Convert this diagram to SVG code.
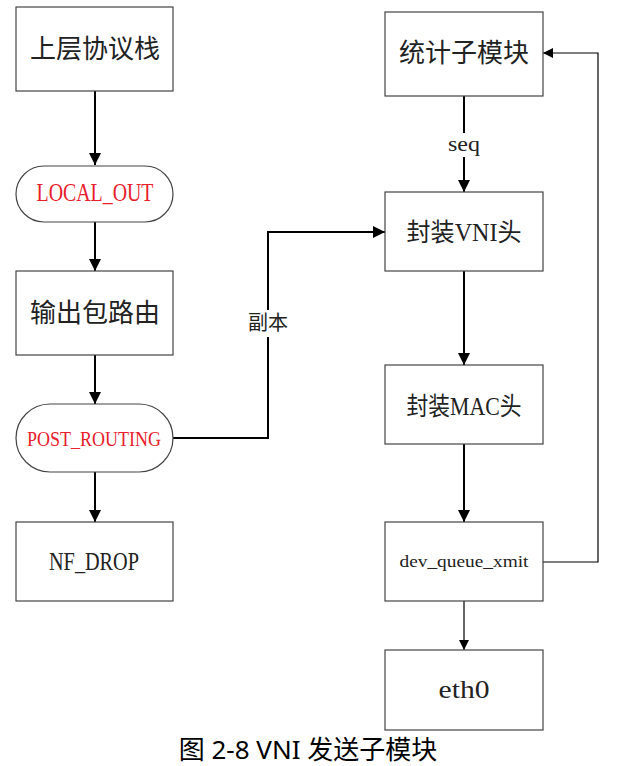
<svg xmlns="http://www.w3.org/2000/svg" width="628" height="766" viewBox="0 0 628 766">
<style>
.box{fill:#fff;stroke:#444;stroke-width:1.2}
.cjk{font-family:"Noto Sans CJK SC",sans-serif;font-size:26px;fill:#222;text-anchor:middle}
.lat{font-family:"Liberation Serif","Noto Sans CJK SC",serif;fill:#222;text-anchor:middle}
.red{fill:#e8202a}
.thick{fill:none;stroke:#000;stroke-width:2}
.thin{fill:none;stroke:#000;stroke-width:1.2}
.lbl{font-family:"Noto Sans CJK SC",sans-serif;font-size:20px;fill:#222;text-anchor:middle}
</style>
<defs>
<marker id="ah" viewBox="0 0 12 12" refX="12" refY="6" markerWidth="12" markerHeight="12" markerUnits="userSpaceOnUse" orient="auto">
<path d="M0,0 L12,6 L0,12 Z" fill="#000"/>
</marker>
<marker id="ahs" viewBox="0 0 10 10" refX="10" refY="5" markerWidth="10" markerHeight="10" markerUnits="userSpaceOnUse" orient="auto">
<path d="M0,0 L10,5 L0,10 Z" fill="#000"/>
</marker>
</defs>
<g id="connectors">
<line class="thick" x1="95" y1="91" x2="95" y2="165" marker-end="url(#ah)"/>
<line class="thick" x1="95" y1="222" x2="95" y2="271" marker-end="url(#ah)"/>
<line class="thick" x1="95" y1="355" x2="95" y2="404" marker-end="url(#ah)"/>
<line class="thick" x1="95" y1="472" x2="95" y2="522" marker-end="url(#ah)"/>
<polyline class="thick" points="173,438 268,438 268,232 385,232" marker-end="url(#ah)"/>
<line class="thick" x1="464" y1="96" x2="464" y2="192" marker-end="url(#ah)"/>
<line class="thick" x1="464" y1="271" x2="464" y2="365" marker-end="url(#ah)"/>
<line class="thick" x1="464" y1="444" x2="464" y2="522" marker-end="url(#ah)"/>
<line class="thin" x1="464" y1="601" x2="464" y2="650" marker-end="url(#ahs)"/>
<polyline class="thin" points="543,562 598,562 598,53 543,53" marker-end="url(#ahs)"/>
<rect x="440" y="133" width="48" height="24" fill="#fff"/>
<text class="lat" x="464" y="151" font-size="20" textLength="32" lengthAdjust="spacingAndGlyphs">seq</text>
<rect x="245" y="310" width="46" height="27" fill="#fff"/>
<text class="lbl" x="268" y="330">副本</text>
</g>
<g id="n1"><rect class="box" x="16" y="7" width="157" height="84"/><text class="cjk" x="95" y="58">上层协议栈</text></g>
<g id="n2"><rect class="box" x="16" y="166" width="157" height="56" rx="28" ry="28"/><text class="lat red" x="95" y="201" font-size="25" textLength="117" lengthAdjust="spacingAndGlyphs">LOCAL_OUT</text></g>
<g id="n3"><rect class="box" x="16" y="271" width="157" height="84"/><text class="cjk" x="95" y="322">输出包路由</text></g>
<g id="n4"><rect class="box" x="16" y="404" width="157" height="68" rx="34" ry="34"/><text class="lat red" x="94" y="446" font-size="22" textLength="134" lengthAdjust="spacingAndGlyphs">POST_ROUTING</text></g>
<g id="n5"><rect class="box" x="16" y="522" width="157" height="79"/><text class="lat" x="94" y="570" font-size="25" textLength="90" lengthAdjust="spacingAndGlyphs">NF_DROP</text></g>
<g id="n6"><rect class="box" x="385" y="12" width="158" height="84"/><text class="cjk" x="464" y="62">统计子模块</text></g>
<g id="n7"><rect class="box" x="385" y="192" width="158" height="79"/><text class="lat" x="464" y="241" font-size="25" textLength="115" lengthAdjust="spacingAndGlyphs">封装VNI头</text></g>
<g id="n8"><rect class="box" x="385" y="365" width="158" height="79"/><text class="lat" x="464" y="415" font-size="25" textLength="115" lengthAdjust="spacingAndGlyphs">封装MAC头</text></g>
<g id="n9"><rect class="box" x="385" y="522" width="158" height="79"/><text class="lat" x="464" y="567" font-size="17" textLength="129" lengthAdjust="spacingAndGlyphs">dev_queue_xmit</text></g>
<g id="n10"><rect class="box" x="385" y="650" width="158" height="80"/><text class="lat" x="464" y="698" font-size="25" textLength="51" lengthAdjust="spacingAndGlyphs">eth0</text></g>
<text x="308" y="759" font-family="Noto Sans, Noto Sans CJK SC, sans-serif" font-size="26" text-anchor="middle" fill="#000">图 2-8 VNI 发送子模块</text>
</svg>
